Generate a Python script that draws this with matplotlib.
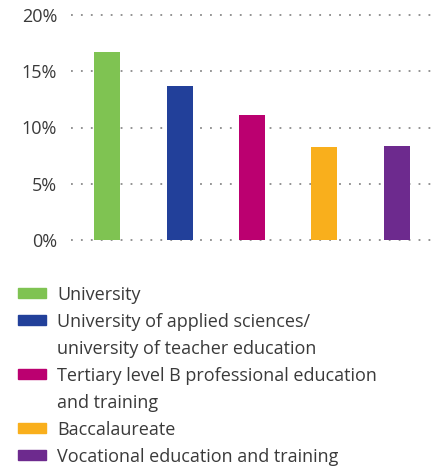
import matplotlib
matplotlib.use("Agg")
import matplotlib.pyplot as plt
from matplotlib.patches import Rectangle
from matplotlib.ticker import FuncFormatter

# data
categories = ["University",
              "University of applied sciences/\nuniversity of teacher education",
              "Tertiary level B professional education\nand training",
              "Baccalaureate",
              "Vocational education and training"]
values = [16.7, 13.7, 11.1, 8.3, 8.4]
colors = ["#7fc352", "#22409a", "#bb0070", "#f9af1c", "#6d2a8e"]
yticks = [0, 5, 10, 15, 20]

plt.rcParams['font.family'] = ['Open Sans', 'DejaVu Sans']
txt_color = "#3a3a3a"

fig = plt.figure(figsize=(4.41, 4.71), dpi=100)
ax = fig.add_axes([71/441, (471-240)/471, (433-71)/441, (240-15)/471])

x = range(len(values))
ax.bar(x, values, width=0.36, color=colors, zorder=3)

ax.set_xlim(-0.5, 4.5)
ax.set_ylim(0, 20)
ax.set_yticks(yticks)
ax.yaxis.set_major_formatter(FuncFormatter(lambda v, p: f"{v:.0f}%"))
ax.set_xticks([])
ax.tick_params(axis='y', length=0, pad=10, labelsize=13, labelcolor=txt_color)
for s in ax.spines.values():
    s.set_visible(False)
ax.yaxis.grid(True, color="#8a8a8a", linestyle=(0, (1, 4.5)), linewidth=1.3, zorder=0)
for line in ax.get_ygridlines():
    line.set_clip_on(False)

# legend drawn by hand so the swatch aligns with the first line
row_y = 293
for lab, col in zip(categories, colors):
    fy = (471 - row_y) / 471
    fig.add_artist(Rectangle((18/441, fy - 4.5/471), 28/441, 9.5/471,
                             transform=fig.transFigure, color=col))
    for i, part in enumerate(lab.split("\n")):
        fig.text(57/441, (471 - row_y - 27 * i) / 471, part, fontsize=13,
                 color=txt_color, va='center_baseline')
    row_y += 27 * (lab.count("\n") + 1)

fig.savefig("out.png", dpi=100)
